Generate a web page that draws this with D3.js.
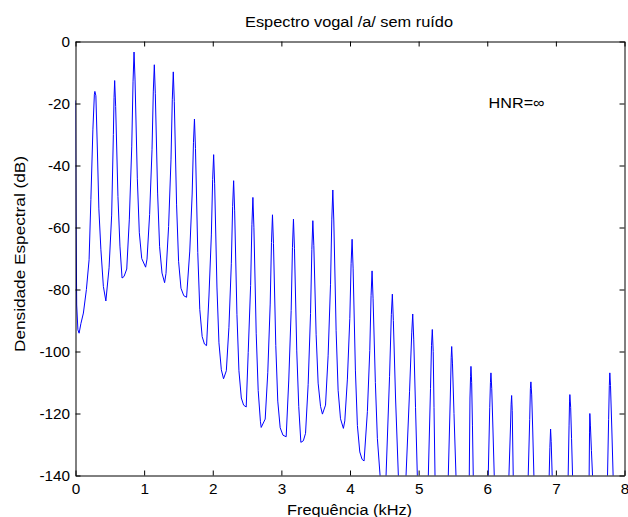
<!DOCTYPE html>
<html>
<head>
<meta charset="utf-8">
<script src="https://cdn.jsdelivr.net/npm/d3@7"></script>
<style>
  html, body { margin: 0; padding: 0; background: #fff; }
  svg { display: block; }
  text { font-family: "Liberation Sans", Arial, sans-serif; fill: #000; }
</style>
</head>
<body>
<svg id="chart" width="628" height="517"></svg>
<script>
// ---- data ----
const title = "Espectro vogal /a/ sem ruído";
const xLabel = "Frequência (kHz)";
const yLabel = "Densidade Espectral (dB)";
const annotation = "HNR=∞";
const xTicks = [0, 1, 2, 3, 4, 5, 6, 7, 8];
const yTicks = [0, -20, -40, -60, -80, -100, -120, -140];

// spectrum trace: frequency in kHz
const freqKHz = [
  0, 0.0073, 0.0175, 0.0349, 0.0524, 0.0786, 0.1150, 0.1587, 0.1980, 0.2242, 0.2533, 0.2751, 0.2824, 0.2969, 0.3188, 0.3406, 0.3697, 0.4061, 0.4425,
  0.4891, 0.5269, 0.5517, 0.5619, 0.5706, 0.5852, 0.6186, 0.6477, 0.6783,
  0.7074, 0.7467, 0.7846, 0.8195, 0.8384, 0.8530, 0.8675, 0.9010, 0.9301, 0.9651, 1.0218,
  1.0422, 1.0801, 1.1150, 1.1339, 1.1485, 1.1630, 1.1965, 1.2256, 1.2605, 1.2984,
  1.3188, 1.3566, 1.3916, 1.4105, 1.4250, 1.4396, 1.4731, 1.5022, 1.5371, 1.5779, 1.6186,
  1.6652, 1.7001, 1.7191, 1.7336, 1.7482, 1.7817, 1.8108, 1.8457, 1.8792, 1.9097,
  1.9447, 1.9796, 1.9985, 2.0131, 2.0276, 2.0611, 2.0902, 2.1252, 2.1572,
  2.1980, 2.2358, 2.2707, 2.2897, 2.3042, 2.3188, 2.3523, 2.3814, 2.4163, 2.4498, 2.4876,
  2.5167, 2.5517, 2.5706, 2.5851, 2.5997, 2.6332, 2.6623, 2.6943, 2.7060,
  2.7642, 2.8020, 2.8370, 2.8559, 2.8704, 2.8850, 2.9185, 2.9476, 2.9825, 3.0233, 3.0699,
  3.1077, 3.1426, 3.1616, 3.1761, 3.1907, 3.2242, 3.2533, 3.2838,
  3.3202, 3.3522, 3.3901, 3.4250, 3.4440, 3.4585, 3.4731, 3.5066, 3.5357, 3.5706, 3.5982,
  3.6434, 3.6812, 3.7161, 3.7351, 3.7496, 3.7642, 3.7977, 3.8268, 3.8617, 3.9039,
  3.9243, 3.9621, 3.9971, 4.0160, 4.0306, 4.0451, 4.0786, 4.1077, 4.1426, 4.1761, 4.2052,
  4.2533, 4.2882, 4.3071, 4.3217, 4.3362, 4.3697, 4.3988, 4.4381, 4.4818,
  4.5255, 4.5764, 4.6026, 4.6172, 4.6317, 4.6638, 4.7045, 4.7584,
  4.8166, 4.8675, 4.8996, 4.9141, 4.9287, 4.9549, 4.9811, 5.0495,
  5.1412, 5.1732, 5.1878, 5.1994, 5.2125, 5.2242, 5.2387, 5.3261,
  5.4323, 5.4614, 5.4745, 5.4818, 5.4935, 5.5153, 5.5443, 5.6317,
  5.7380, 5.7482, 5.7569, 5.7627, 5.7729, 5.7846, 5.7962, 5.8937,
  6.0145, 6.0364, 6.0466, 6.0538, 6.0655, 6.0829, 6.1019, 6.1848,
  6.3158, 6.3377, 6.3479, 6.3552, 6.3639, 6.3785, 6.4759,
  6.5968, 6.6186, 6.6288, 6.6361, 6.6477, 6.6623, 6.6798, 6.7671,
  6.9025, 6.9127, 6.9229, 6.9316, 6.9462, 7.0582,
  7.1790, 7.1921, 7.1994, 7.2038, 7.2154, 7.2285, 7.2431, 7.3494,
  7.4847, 7.4905, 7.4949, 7.5036, 7.5182, 7.5342, 7.6405,
  7.7526, 7.7686, 7.7787, 7.7860, 7.7962, 7.8152, 7.8341, 7.9316, 8.0
];
// spectrum trace: level in dB
const levelDB = [
  -19, -55, -85, -93, -94.1, -91, -87.6, -80, -70.4, -51, -28.5, -17, -16.1, -17.5, -35, -54, -67, -79, -83.7,
  -73, -56, -30, -18, -12.6, -21, -50, -66, -76.3,
  -75.8, -73.4, -57.3, -34, -13, -3.4, -12.4, -44.3, -61.7, -70, -72.8,
  -70.2, -55.8, -34.9, -16, -7.5, -16.7, -48.9, -66.2, -74.7, -77.8,
  -74.8, -59.7, -38.2, -18.8, -9.8, -19.3, -52.7, -70.9, -79.6, -82, -82.5,
  -67.6, -49.2, -32.5, -25, -34.5, -68.1, -86.4, -95.2, -97.6, -98.1,
  -82.1, -62.4, -44.5, -36.5, -45.9, -79.2, -97.2, -105.9, -108.8,
  -106.2, -92.2, -71.7, -53.2, -44.9, -54.4, -88, -106.2, -115, -117.3, -117.9,
  -100.3, -78.7, -59.1, -50.3, -59.9, -94.1, -112.6, -122.5, -124.5,
  -121.8, -106.7, -84.7, -64.8, -55.9, -65.2, -98.1, -116, -124.6, -127, -127.5,
  -109.2, -86.8, -66.4, -57.3, -66.7, -99.8, -117.8, -129.3,
  -128.8, -126.4, -110.7, -87.8, -67.1, -57.8, -65.9, -94.6, -110.2, -117.7, -120.2,
  -117.3, -101.4, -78.3, -57.3, -47.9, -57.9, -93.3, -112.5, -121.7, -124.8,
  -122.4, -108.9, -89.4, -71.7, -63.8, -73.1, -106, -123.9, -132.4, -134.8, -135.3,
  -119.4, -99.7, -82, -74, -83, -110, -128, -140, -152,
  -140, -108, -88, -81.5, -90, -115, -140, -160,
  -140, -113, -94, -87.9, -96, -118, -140, -165,
  -140, -112, -98, -92.9, -100, -118, -140, -170,
  -140, -115, -102, -98.4, -104, -120, -140, -170,
  -140, -115, -108, -104.8, -110, -124, -140, -170,
  -140, -118, -110, -106.9, -112, -125, -140, -170,
  -140, -125, -117, -114.2, -119, -140, -170,
  -140, -122, -112, -109.8, -114, -125, -140, -170,
  -140, -131, -125, -129, -140, -170,
  -140, -124, -116, -113.9, -118, -128, -140, -170,
  -140, -126, -120, -124, -132, -140, -170,
  -140, -122, -111, -106.9, -111, -125, -140, -170, -175
];

// ---- layout ----
const svg = d3.select("#chart");
const pLeft = 75.5, pRight = 624.5, pTop = 41.5, pBottom = 475.5;
const x = d3.scaleLinear().domain([0, 8]).range([pLeft, pRight]);
const y = d3.scaleLinear().domain([-140, 0]).range([pBottom, pTop]);
const tickFont = 15.3;
const labelFont = 15.5;
const tickLen = 5;

svg.append("defs").append("clipPath").attr("id", "plotClip")
  .append("rect").attr("x", pLeft).attr("y", pTop)
  .attr("width", pRight - pLeft).attr("height", pBottom - pTop);

// trace
const pts = freqKHz.map((f, i) => [f, levelDB[i]]);
const line = d3.line().x(d => x(d[0])).y(d => y(d[1]));
svg.append("path")
  .datum(pts)
  .attr("clip-path", "url(#plotClip)")
  .attr("fill", "none")
  .attr("stroke", "#0000ff")
  .attr("stroke-width", 1)
  .attr("stroke-linejoin", "round")
  .attr("d", line);

// axes (MATLAB-style box with inward ticks)
const axisStyle = g => {
  g.select(".domain").attr("stroke", "#000").attr("stroke-width", 1);
  g.selectAll(".tick line").attr("stroke", "#000").attr("stroke-width", 1);
  g.selectAll("text").style("font-family", '"Liberation Sans", Arial, sans-serif')
    .style("font-size", tickFont + "px").attr("fill", "#000");
};

svg.append("g").attr("transform", `translate(0,${pBottom})`)
  .call(d3.axisBottom(x).tickValues(xTicks).tickFormat(d3.format("d"))
    .tickSizeInner(-tickLen).tickSizeOuter(0).tickPadding(7.5))
  .call(axisStyle);

svg.append("g").attr("transform", `translate(0,${pTop})`)
  .call(d3.axisTop(x).tickValues(xTicks).tickFormat("")
    .tickSizeInner(-tickLen).tickSizeOuter(0))
  .call(axisStyle);

svg.append("g").attr("transform", `translate(${pLeft},0)`)
  .call(d3.axisLeft(y).tickValues(yTicks).tickFormat(d3.format("d"))
    .tickSizeInner(-tickLen).tickSizeOuter(0).tickPadding(5.5))
  .call(axisStyle);

svg.append("g").attr("transform", `translate(${pRight},0)`)
  .call(d3.axisRight(y).tickValues(yTicks).tickFormat("")
    .tickSizeInner(-tickLen).tickSizeOuter(0))
  .call(axisStyle);

// use a plain hyphen for negative numbers like the original
svg.selectAll(".tick text").each(function() {
  const t = d3.select(this).text();
  d3.select(this).text(t.replace("\u2212", "-"));
});

// titles
svg.append("text").attr("x", 349).attr("y", 27)
  .attr("text-anchor", "middle").style("font-size", labelFont + "px")
  .attr("textLength", 208).attr("lengthAdjust", "spacingAndGlyphs").text(title);

svg.append("text").attr("x", 349.5).attr("y", 515)
  .attr("text-anchor", "middle").style("font-size", labelFont + "px")
  .attr("textLength", 125).attr("lengthAdjust", "spacingAndGlyphs").text(xLabel);

svg.append("text")
  .attr("transform", `translate(25,254) rotate(-90)`)
  .attr("text-anchor", "middle").style("font-size", labelFont + "px")
  .attr("textLength", 196).attr("lengthAdjust", "spacingAndGlyphs").text(yLabel);

svg.append("text").attr("x", x(6.02)).attr("y", y(-21.5))
  .style("font-size", labelFont + "px")
  .attr("textLength", 56).attr("lengthAdjust", "spacingAndGlyphs").text(annotation);
</script>
</body>
</html>
